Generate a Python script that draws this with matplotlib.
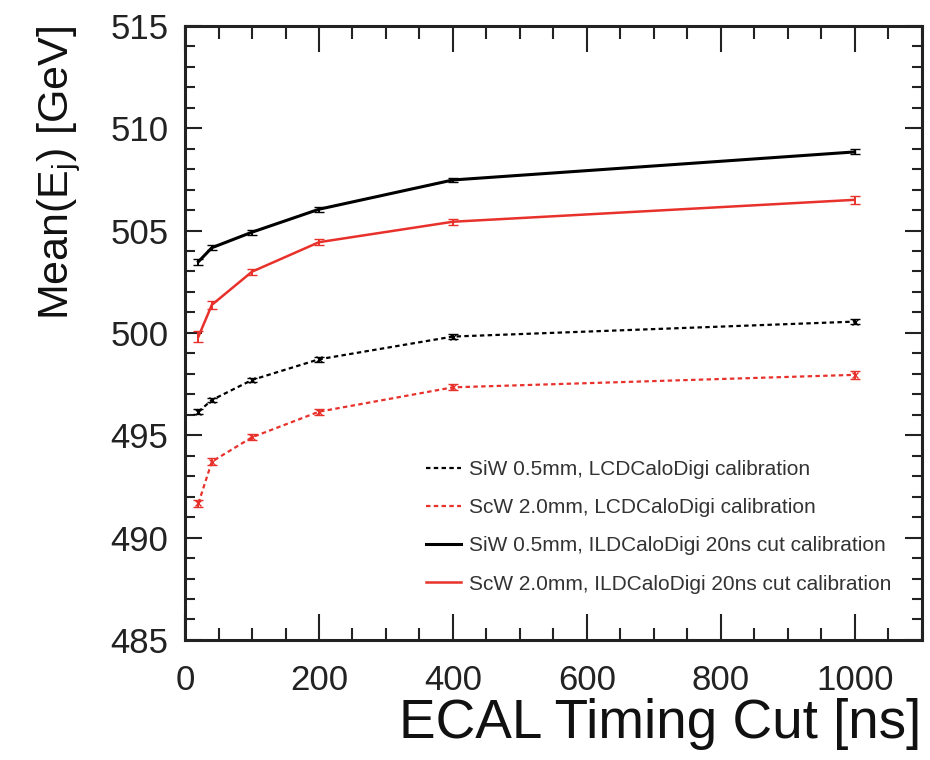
import matplotlib
matplotlib.use("Agg")
import matplotlib.pyplot as plt
from matplotlib.ticker import MultipleLocator

plt.rcParams['font.family'] = ['Liberation Sans', 'DejaVu Sans']

timing_cut = [20, 40, 100, 200, 400, 1000]

siw_lcd = [496.15, 496.72, 497.70, 498.71, 499.82, 500.55]
siw_lcd_err = [0.12, 0.12, 0.12, 0.12, 0.12, 0.12]
scw_lcd = [491.68, 493.71, 494.90, 496.15, 497.34, 497.95]
scw_lcd_err = [0.18, 0.18, 0.15, 0.15, 0.15, 0.18]
siw_ild = [503.48, 504.16, 504.92, 506.04, 507.47, 508.84]
siw_ild_err = [0.15, 0.12, 0.12, 0.12, 0.12, 0.12]
scw_ild = [499.82, 501.37, 502.99, 504.43, 505.43, 506.50]
scw_ild_err = [0.25, 0.18, 0.15, 0.15, 0.15, 0.18]

labels = [
    "SiW 0.5mm, LCDCaloDigi calibration",
    "ScW 2.0mm, LCDCaloDigi calibration",
    "SiW 0.5mm, ILDCaloDigi 20ns cut calibration",
    "ScW 2.0mm, ILDCaloDigi 20ns cut calibration",
]

fig = plt.figure(figsize=(9.3, 7.6), dpi=100)
ax = fig.add_axes([0.199, 0.158, 0.792, 0.808])

RED = '#e8312b'
series = [
    (siw_lcd, siw_lcd_err, 'black', (0, (2, 1.5)), 1.6, 'x'),
    (scw_lcd, scw_lcd_err, RED, (0, (2, 1.5)), 1.6, 'x'),
    (siw_ild, siw_ild_err, 'black', '-', 2.2, None),
    (scw_ild, scw_ild_err, RED, '-', 1.8, None),
]
handles = []
for (vals, errs, col, ls, lw, mk), lab in zip(series, labels):
    ax.errorbar(timing_cut, vals, yerr=errs, color=col, ls=ls, lw=lw,
                marker=mk, ms=5, mew=1.0, capsize=3.5, elinewidth=1.4,
                capthick=1.4)
    h, = ax.plot([], [], color=col, ls=ls, lw=lw)
    handles.append(h)

ax.set_xlim(0, 1100)
ax.set_ylim(485, 515)
ax.xaxis.set_major_locator(MultipleLocator(200))
ax.xaxis.set_minor_locator(MultipleLocator(50))
ax.yaxis.set_major_locator(MultipleLocator(5))
ax.yaxis.set_minor_locator(MultipleLocator(1))

ax.tick_params(axis='both', which='both', direction='in', top=True, right=True,
               width=1.5, colors='#222222')
ax.tick_params(axis='x', which='major', length=19, labelsize=25, pad=17)
ax.tick_params(axis='x', which='minor', length=9)
ax.tick_params(axis='y', which='major', length=12, labelsize=25, pad=12)
ax.tick_params(axis='y', which='minor', length=7)
for lab in ax.get_xticklabels() + ax.get_yticklabels():
    lab.set_color('#222222')
for s in ax.spines.values():
    s.set_linewidth(2.2)
    s.set_color('#222222')

ax.set_xlabel("ECAL Timing Cut [ns]", fontsize=39.5, loc='right', color='#111111',
              labelpad=1)
ax.set_ylabel(r"Mean(E$_\mathregular{j}$) [GeV]", fontsize=31, loc='top',
              color='#111111', labelpad=20)

leg = ax.legend(handles, labels, loc='lower right', bbox_to_anchor=(0.985, 0.045),
                frameon=False, fontsize=15, handlelength=1.7,
                labelspacing=0.92, handletextpad=0.4)
for t in leg.get_texts():
    t.set_color('#333333')

fig.savefig("out.png", dpi=100)
